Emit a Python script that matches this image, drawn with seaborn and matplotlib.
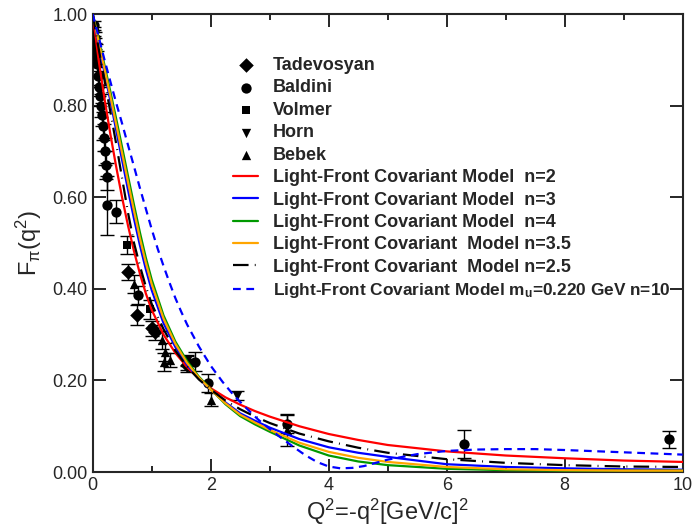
import matplotlib
matplotlib.use("Agg")
import matplotlib.pyplot as plt
from matplotlib.ticker import MultipleLocator, FormatStrFormatter
import numpy as np
import pandas as pd
import seaborn as sns

# model curves
q_curve = [0, 0.1, 0.2, 0.3, 0.4, 0.5, 0.6, 0.7, 0.8, 0.9, 1.0, 1.2, 1.4, 1.6, 1.8, 2.0,
           2.25, 2.5, 2.75, 3.0, 3.5, 4.0, 4.5, 5.0, 6.0, 7.0, 8.0, 9.0, 10.0]
f_n2 = [1.0, 0.90, 0.815, 0.737, 0.665, 0.598, 0.537, 0.482, 0.433, 0.39, 0.354, 0.30, 0.26, 0.229, 0.204, 0.183,
        0.163, 0.147, 0.133, 0.121, 0.100, 0.083, 0.070, 0.059, 0.045, 0.036, 0.030, 0.025, 0.022]
f_n3 = [1.0, 0.935, 0.872, 0.81, 0.745, 0.68, 0.615, 0.553, 0.495, 0.443, 0.397, 0.325, 0.273, 0.234, 0.204, 0.180,
        0.152, 0.128, 0.112, 0.097, 0.072, 0.054, 0.042, 0.033, 0.017, 0.011, 0.008, 0.006, 0.005]
f_n4 = [1.0, 0.945, 0.888, 0.83, 0.77, 0.708, 0.645, 0.583, 0.523, 0.468, 0.42, 0.342, 0.285, 0.242, 0.208, 0.181,
        0.148, 0.122, 0.104, 0.088, 0.058, 0.036, 0.023, 0.015, 0.007, 0.004, 0.003, 0.003, 0.003]
f_n35 = [1.0, 0.94, 0.88, 0.82, 0.758, 0.695, 0.632, 0.57, 0.51, 0.457, 0.41, 0.335, 0.28, 0.238, 0.206, 0.180,
         0.150, 0.125, 0.108, 0.092, 0.064, 0.044, 0.031, 0.022, 0.011, 0.006, 0.004, 0.003, 0.003]
f_n25 = [1.0, 0.925, 0.855, 0.786, 0.715, 0.64, 0.565, 0.50, 0.45, 0.405, 0.367, 0.312, 0.265, 0.230, 0.202, 0.180,
         0.156, 0.137, 0.121, 0.107, 0.084, 0.067, 0.053, 0.042, 0.028, 0.020, 0.015, 0.012, 0.011]

q_mu = [0, 0.1, 0.2, 0.3, 0.4, 0.5, 0.6, 0.7, 0.8, 0.9, 1.0, 1.1, 1.2, 1.3, 1.4, 1.5, 1.6, 1.8, 2.0, 2.2,
        2.4, 2.6, 2.8, 3.0, 3.2, 3.4, 3.6, 3.8, 4.0, 4.2, 4.4, 4.6, 4.8, 5.0, 5.5, 6.0, 6.5, 7.0, 7.5, 8.0, 9.0, 10.0]
f_mu = [1.0, 0.95, 0.9, 0.852, 0.805, 0.76, 0.713, 0.667, 0.62, 0.575, 0.53, 0.488, 0.45, 0.414, 0.38, 0.35, 0.322,
        0.274, 0.232, 0.197, 0.166, 0.14, 0.115, 0.094, 0.074, 0.055, 0.037, 0.022, 0.012, 0.008, 0.009, 0.013,
        0.02, 0.027, 0.039, 0.046, 0.049, 0.05, 0.05, 0.048, 0.043, 0.038]

# experimental data
q_tad = [0.60, 0.75, 1.00, 1.06, 1.60]
f_tad = [0.437, 0.343, 0.314, 0.305, 0.233]
e_tad = [0.017, 0.022, 0.016, 0.016, 0.014]

q_bal = [0.015, 0.025, 0.035, 0.045, 0.055, 0.065, 0.075, 0.09, 0.105, 0.12, 0.135, 0.15, 0.17, 0.19, 0.21,
         0.23, 0.25, 0.24, 0.40, 0.77, 1.73, 1.95, 3.30, 6.30, 9.77]
f_bal = [0.975, 0.962, 0.948, 0.935, 0.92, 0.905, 0.89, 0.865, 0.84, 0.82, 0.80, 0.78, 0.755, 0.73, 0.70,
         0.67, 0.645, 0.582, 0.568, 0.386, 0.241, 0.194, 0.105, 0.061, 0.071]
e_bal = [0.01, 0.01, 0.012, 0.012, 0.015, 0.015, 0.015, 0.02, 0.02, 0.02, 0.025, 0.025, 0.03, 0.03, 0.03,
         0.03, 0.03, 0.065, 0.025, 0.02, 0.02, 0.02, 0.02, 0.03, 0.019]

q_vol = [0.58, 0.97, 1.60]
f_vol = [0.495, 0.355, 0.238]
e_vol = [0.02, 0.02, 0.015]

q_horn = [1.60, 2.45]
f_horn = [0.243, 0.167]
e_horn = [0.012, 0.010]

q_beb = [0.70, 1.17, 1.20, 1.22, 1.31, 2.01, 3.30]
f_beb = [0.41, 0.288, 0.24, 0.262, 0.245, 0.158, 0.092]
e_beb = [0.02, 0.02, 0.02, 0.02, 0.015, 0.014, 0.035]

sns.set_style("ticks")
plt.rcParams['font.family'] = ['Liberation Sans', 'DejaVu Sans']
plt.rcParams['mathtext.fontset'] = 'custom'
plt.rcParams['mathtext.rm'] = 'Liberation Sans'
plt.rcParams['mathtext.it'] = 'Liberation Sans'
plt.rcParams['mathtext.bf'] = 'Liberation Sans:bold'
plt.rcParams['mathtext.default'] = 'regular'

fig = plt.figure(figsize=(6.95, 5.31), dpi=100)
ax = fig.add_axes([0.1334, 0.1111, 0.8489, 0.8625])

datasets = [
    ("Tadevosyan", q_tad, f_tad, e_tad, "D", 55),
    ("Baldini", q_bal, f_bal, e_bal, "o", 55),
    ("Volmer", q_vol, f_vol, e_vol, "s", 35),
    ("Horn", q_horn, f_horn, e_horn, "v", 45),
    ("Bebek", q_beb, f_beb, e_beb, "^", 45),
]
for name, q, f, e, mk, s in datasets:
    ax.errorbar(q, f, yerr=e, fmt="none", ecolor="black", elinewidth=1.0,
                capsize=5, capthick=1.0, zorder=2)
    df = pd.DataFrame({"Q2": q, "F": f})
    sns.scatterplot(data=df, x="Q2", y="F", marker=mk, s=s, color="black",
                    edgecolor="black", linewidth=0, label=name, ax=ax, zorder=3)

curves = [
    ("Light-Front Covariant Model  n=2", q_curve, f_n2, "#ff0000", "-"),
    ("Light-Front Covariant Model  n=3", q_curve, f_n3, "#0000ff", "-"),
    ("Light-Front Covariant Model  n=4", q_curve, f_n4, "#009900", "-"),
    ("Light-Front Covariant  Model n=3.5", q_curve, f_n35, "#ffa500", "-"),
    ("Light-Front Covariant  Model n=2.5", q_curve, f_n25, "black", (0, (7, 2.8, 0.4, 2.8))),
    (r"Light-Front Covariant Model m$\mathbf{_u}$=0.220 GeV n=10", q_mu, f_mu, "#0000ff", (0, (3.5, 2.5))),
]
for name, q, f, col, ls in curves:
    df = pd.DataFrame({"Q2": q, "F": f})
    sns.lineplot(data=df, x="Q2", y="F", color=col, linewidth=1.6, linestyle=ls,
                 sort=False, errorbar=None, label=name, ax=ax, zorder=4)

ax.set_xlim(0, 10)
ax.set_ylim(0, 1)
ax.xaxis.set_major_locator(MultipleLocator(2))
ax.xaxis.set_minor_locator(MultipleLocator(1))
ax.yaxis.set_major_locator(MultipleLocator(0.2))
ax.yaxis.set_major_formatter(FormatStrFormatter("%.2f"))
ax.tick_params(which="both", direction="in", top=True, right=True, width=1.4, labelsize=13)
ax.tick_params(which="major", length=9.5)
ax.tick_params(which="minor", length=4.5)
for sp in ax.spines.values():
    sp.set_linewidth(1.5)

ax.set_xlabel("Q$^2$=-q$^2$[GeV/c]$^2$", fontsize=17, labelpad=2)
ax.set_ylabel(r"F$_\pi$(q$^2$)", fontsize=17, labelpad=6)

leg = ax.legend(loc="upper left", bbox_to_anchor=(0.238, 0.906), frameon=False,
                prop={"weight": "bold", "size": 13}, handlelength=1.4, handletextpad=0.8,
                labelspacing=0.30, borderpad=0, borderaxespad=0, markerscale=1.0)
leg.get_texts()[-1].set_fontsize(12.4)

fig.savefig("out.png", dpi=100)
